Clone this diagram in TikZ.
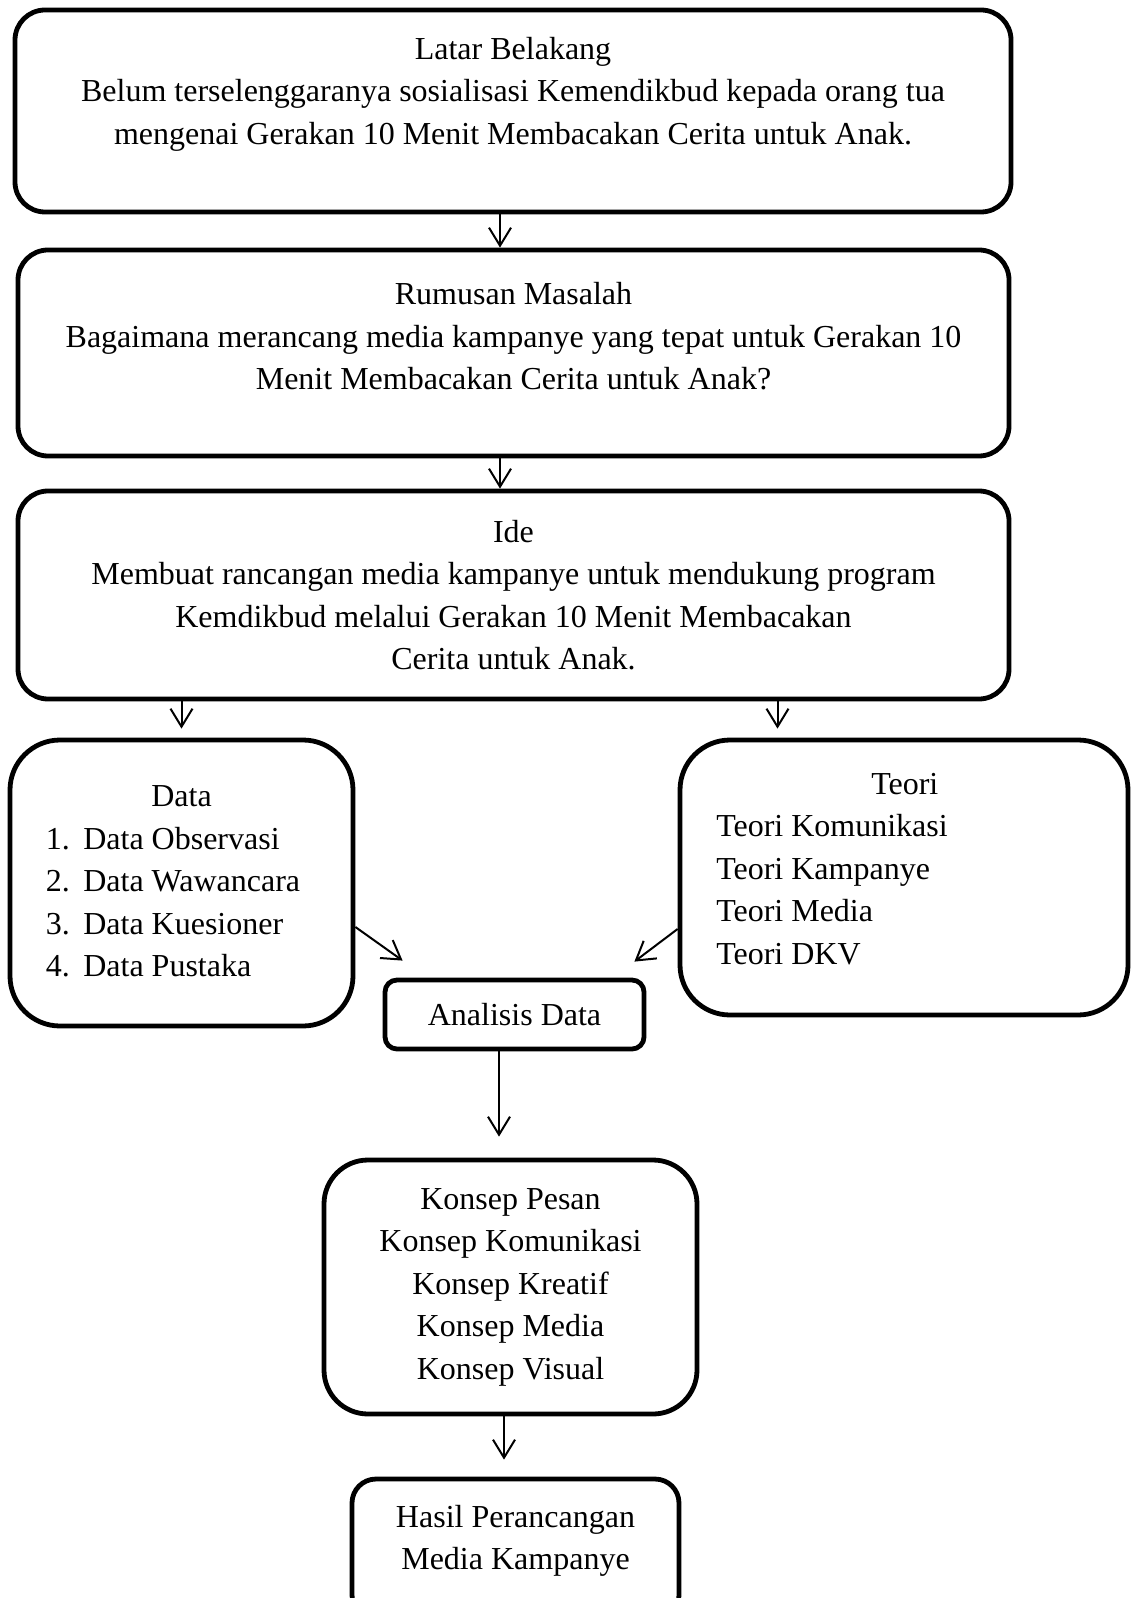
\documentclass[tikz,border=0pt]{standalone}
\usepackage{fontspec}
\setmainfont{Liberation Serif}
\usetikzlibrary{positioning,arrows.meta}
\newcommand{\liftup}[2]{\raisebox{#1}[\height][\depth]{\begin{tabular}{@{}c@{}}#2\end{tabular}}}

\begin{document}
\begin{tikzpicture}[x=0.5pt,y=-0.5pt,
  rbox/.style={draw,line width=2.4pt,rounded corners=#1,align=center,inner sep=0pt,font=\fontsize{16}{21.25}\selectfont},
  rbox/.default=15pt,
  arr/.style={-{Straight Barb[length=9pt,width=11pt]},line width=1pt}]
  \useasboundingbox (0,0) rectangle (1133,1598);

  \node[rbox,minimum width=498pt,minimum height=101pt] (latar) at (513,111)
    {\liftup{8.75pt}{Latar Belakang\\ Belum terselenggaranya sosialisasi Kemendikbud kepada orang tua\\ mengenai Gerakan 10 Menit Membacakan Cerita untuk Anak.}};
  \node[rbox,minimum width=495.5pt,minimum height=103pt] (rumusan) at (513.5,353)
    {\liftup{7pt}{Rumusan Masalah\\ Bagaimana merancang media kampanye yang tepat untuk Gerakan 10\\ Menit Membacakan Cerita untuk Anak?}};
  \node[rbox,minimum width=495.5pt,minimum height=104pt] (ide) at (513.5,595)
    {Ide\\ Membuat rancangan media kampanye untuk mendukung program\\ Kemdikbud melalui Gerakan 10 Menit Membacakan\\ Cerita untuk Anak.};

  \node[rbox=25pt,minimum width=171.5pt,minimum height=143pt] (data) at (181.5,883)
    {\begin{tabular}{@{}p{18.75pt}@{}l@{}}
      \multicolumn{2}{c}{\hspace{8.5pt}Data}\\
      1. & Data Observasi\\
      2. & Data Wawancara\\
      3. & Data Kuesioner\\
      4. & Data Pustaka
    \end{tabular}\hspace{8.5pt}};
  \node[rbox=25pt,minimum width=224pt,minimum height=137.5pt] (teori) at (904,877.5)
    {\raisebox{3.5pt}[\height][\depth]{\begin{tabular}{@{}l@{}}
      \hspace*{77.5pt}Teori\\
      Teori Komunikasi\\
      Teori Kampanye\\
      Teori Media\\
      Teori DKV
    \end{tabular}}\hspace{72pt}};

  \node[rbox=6pt,minimum width=129.5pt,minimum height=34.5pt] (analisis) at (514.5,1014.5) {Analisis Data};
  \node[rbox=22pt,minimum width=186.5pt,minimum height=127pt] (konsep) at (510.5,1287)
    {Konsep Pesan\\ Konsep Komunikasi\\ Konsep Kreatif\\ Konsep Media\\ Konsep Visual};
  \node[rbox=12pt,minimum width=163.5pt,minimum height=70pt] (hasil) at (515.5,1549)
    {\liftup{4.5pt}{Hasil Perancangan\\ Media Kampanye}};

  \draw[arr] ([xshift=-6.5pt]latar.south) -- ([xshift=-6.5pt]latar.south |- rumusan.north);
  \draw[arr] ([xshift=-6.75pt]rumusan.south) -- ([xshift=-6.75pt]rumusan.south |- ide.north);
  \draw[arr,shorten >=4.5pt] (ide.south -| data.north) -- (data.north);
  \draw[arr,shorten >=4.5pt] ([xshift=132pt]ide.south) -- ([xshift=132pt]ide.south |- teori.north);
  \draw[arr] ([yshift=-22pt]data.east) -- ([xshift=10pt,yshift=8.5pt]analisis.north west);
  \draw[arr] ([yshift=-25.75pt]teori.west) -- ([xshift=-6pt,yshift=8pt]analisis.north east);
  \draw[arr,shorten >=10.5pt] ([xshift=-7.75pt]analisis.south) -- ([xshift=-7.75pt]analisis.south |- konsep.north);
  \draw[arr,shorten >=8.5pt] ([xshift=-3.25pt]konsep.south) -- ([xshift=-3.25pt]konsep.south |- hasil.north);
\end{tikzpicture}
\end{document}
